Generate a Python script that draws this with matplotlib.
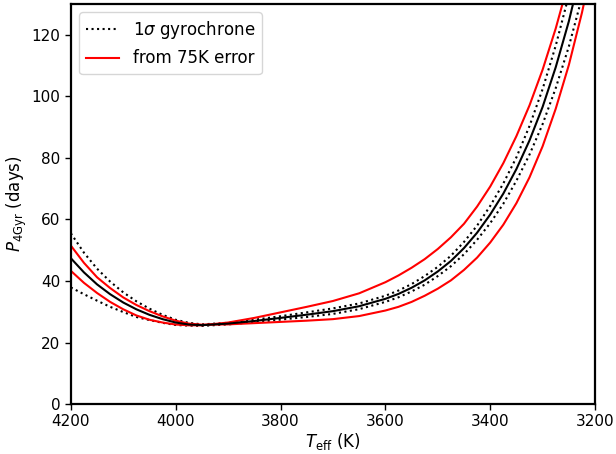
import numpy as np
import matplotlib
matplotlib.use('Agg')
import matplotlib.pyplot as plt

# effective temperature grid (K) and rotation periods (days)
teff = [4200, 4175, 4150, 4125, 4100, 4075, 4050, 4025, 4000, 3975, 3950,
        3900, 3850, 3800, 3750, 3700, 3650, 3600, 3575, 3550, 3525, 3500,
        3475, 3450, 3425, 3400, 3375, 3350, 3325, 3300, 3275, 3250, 3225, 3200]

p_mid = [47.4, 42.8, 38.9, 35.7, 33.0, 30.8, 29.0, 27.6, 26.5, 25.85, 25.65,
         26.15, 27.0, 28.0, 29.05, 30.2, 31.8, 34.2, 35.8, 37.8, 40.2, 43.1,
         46.5, 50.7, 55.7, 61.6, 68.4, 76.4, 85.7, 96.6, 109.5, 124.4, 142.1, 162.7]

p_sig_hi = [55.5, 49.2, 44.0, 39.8, 36.3, 33.4, 31.0, 29.0, 27.4, 26.4, 25.9,
            26.4, 27.4, 28.55, 29.8, 31.1, 32.7, 35.2, 36.9, 39.0, 41.6, 44.6,
            48.2, 52.7, 58.0, 64.4, 71.7, 80.2, 90.4, 102.4, 116.5, 132.9, 152.3, 174.9]
p_sig_lo = [37.9, 35.7, 33.6, 31.6, 29.9, 28.3, 27.3, 26.4, 25.7, 25.5, 25.4,
            25.9, 26.6, 27.45, 28.3, 29.3, 30.85, 33.2, 34.7, 36.6, 38.8, 41.6,
            44.8, 48.7, 53.4, 58.8, 65.1, 72.6, 81.1, 91.0, 102.7, 116.2, 132.2, 150.8]

p_err_1 = [51.5, 45.9, 41.2, 37.7, 34.65, 32.2, 30.2, 28.5, 27.1, 26.15, 25.8,
           25.9, 26.3, 26.7, 27.1, 27.6, 28.6, 30.4, 31.6, 33.2, 35.2, 37.5,
           40.2, 43.6, 47.6, 52.5, 58.3, 65.3, 73.7, 83.8, 96.0, 110.2, 127.2, 146.9]
p_err_2 = [43.3, 39.4, 36.1, 33.2, 30.8, 28.8, 27.4, 26.5, 25.85, 25.6, 25.6,
           26.5, 28.0, 29.8, 31.6, 33.5, 36.0, 39.6, 41.8, 44.3, 47.1, 50.4,
           54.2, 58.6, 64.2, 70.7, 78.3, 87.1, 97.1, 108.7, 122.1, 137.5, 155.9, 177.3]

fig = plt.figure(figsize=(6.16, 4.54), dpi=100)
ax = fig.add_axes([0.115, 0.110, 0.851, 0.881])

lw = 1.5
ax.plot(teff, p_sig_hi, ':', color='k', lw=lw, label=r'1$\sigma$ gyrochrone')
ax.plot(teff, p_sig_lo, ':', color='k', lw=lw)
ax.plot(teff, p_err_1, '-', color='red', lw=lw, label='from 75K error')
ax.plot(teff, p_err_2, '-', color='red', lw=lw)
ax.plot(teff, p_mid, '-', color='k', lw=lw)

ax.set_xlim(4200, 3200)
ax.set_ylim(0, 130)
ax.set_xticks([4200, 4000, 3800, 3600, 3400, 3200])
ax.set_yticks([0, 20, 40, 60, 80, 100, 120])
ax.tick_params(labelsize=11, width=1.0, length=4)
for s in ax.spines.values():
    s.set_linewidth(1.6)

ax.set_xlabel(r'$T_{\rm eff}$ (K)', fontsize=12, labelpad=1)
ax.set_ylabel(r'$P_{\rm 4Gyr}$ (days)', fontsize=12, labelpad=2)
ax.legend(loc='upper left', fontsize=12, handlelength=2.0)

fig.savefig('out.png', dpi=100)
